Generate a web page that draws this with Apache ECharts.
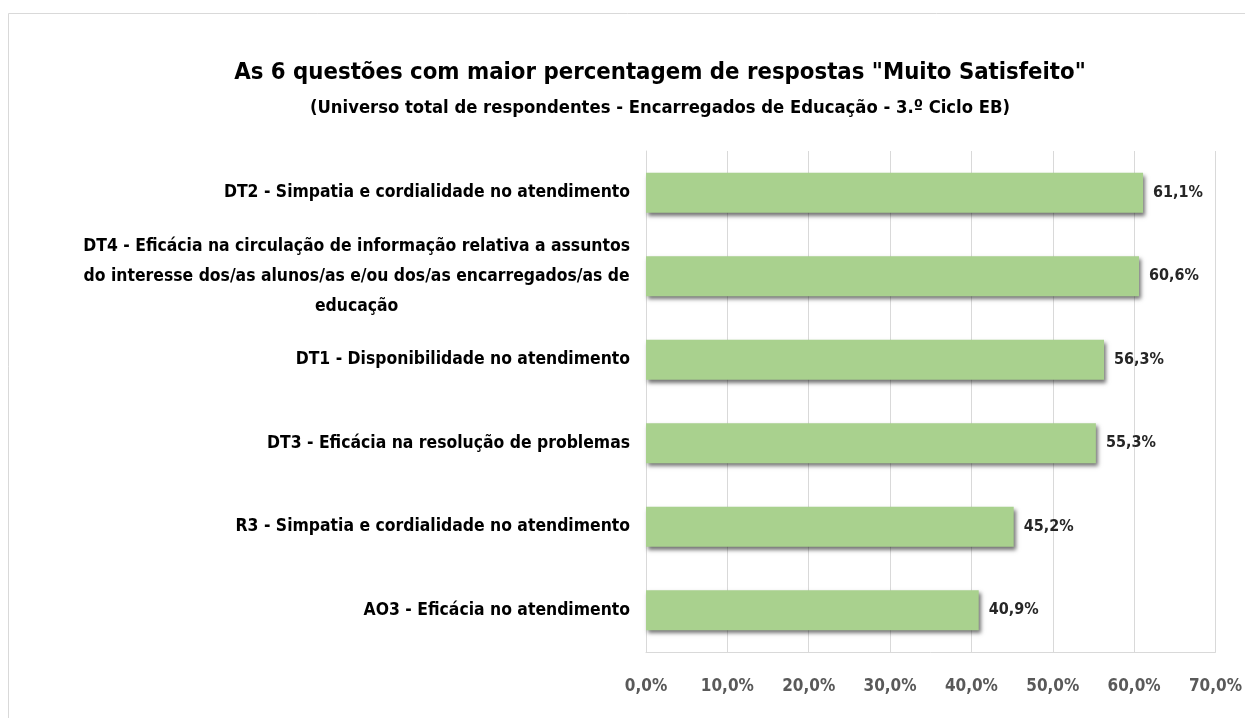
<!DOCTYPE html>
<html>
<head>
<meta charset="utf-8">
<script src="https://cdn.jsdelivr.net/npm/echarts@6/dist/echarts.min.js"></script>
<style>
  html, body { margin: 0; padding: 0; background: #ffffff; }
  #chart { width: 1245px; height: 718px; }
</style>
</head>
<body>
<div id="chart"></div>
<script>
const titleText = 'As 6 questões com maior percentagem de respostas "Muito Satisfeito"';
const subtitleText = '(Universo total de respondentes - Encarregados de Educação - 3.º Ciclo EB)';
const categories = [
  'DT2 - Simpatia e cordialidade no atendimento',
  'DT4 - Eficácia na circulação de informação relativa a assuntos\ndo interesse dos/as alunos/as e/ou dos/as encarregados/as de\neducação',
  'DT1 - Disponibilidade no atendimento',
  'DT3 - Eficácia na resolução de problemas',
  'R3 - Simpatia e cordialidade no atendimento',
  'AO3 - Eficácia no atendimento'
];
const values = [61.1, 60.6, 56.3, 55.3, 45.2, 40.9];
const axisMin = 0, axisMax = 70, axisStep = 10;

const FONT = '"DejaVu Sans Condensed", "Liberation Sans Narrow", sans-serif';
const fmt = v => v.toFixed(1).replace('.', ',') + '%';

const chart = echarts.init(document.getElementById('chart'), null, { renderer: 'canvas' });
chart.setOption({
  backgroundColor: '#ffffff',
  animation: false,
  graphic: [{
    type: 'rect',
    shape: { x: 8.5, y: 13.5, width: 1300, height: 800 },
    style: { fill: 'none', stroke: '#d9d9d9', lineWidth: 1 },
    silent: true
  }],
  title: [{
    text: titleText,
    left: 655, top: 56, textAlign: 'center',
    textStyle: { fontFamily: FONT, fontSize: 23.7, fontWeight: 'bold', color: '#000000' }
  }, {
    text: subtitleText,
    left: 655, top: 94, textAlign: 'center',
    textStyle: { fontFamily: FONT, fontSize: 18.3, fontWeight: 'bold', color: '#000000' }
  }],
  grid: { left: 646, right: 27, top: 151, bottom: 66, containLabel: false },
  xAxis: {
    type: 'value', min: axisMin, max: axisMax, interval: axisStep,
    axisLine: { show: true, lineStyle: { color: '#d9d9d9', width: 1 } },
    axisTick: { show: false },
    splitLine: { show: true, lineStyle: { color: '#d9d9d9', width: 1 } },
    axisLabel: {
      margin: 26, color: '#595959', fontFamily: FONT, fontSize: 17, fontWeight: 'bold',
      formatter: v => fmt(v)
    }
  },
  yAxis: {
    type: 'category', data: categories, inverse: true,
    axisLine: { show: true, lineStyle: { color: '#d9d9d9', width: 1 } },
    axisTick: { show: false },
    axisLabel: {
      margin: 16, color: '#000000', fontFamily: FONT, fontSize: 17.4, fontWeight: 'bold',
      lineHeight: 30,
      formatter: v => v.split('\n').map(l => '{c|' + l + '}').join('\n'),
      rich: { c: { align: 'center', fontFamily: FONT, fontSize: 17.4, fontWeight: 'bold', color: '#000000', lineHeight: 30 } }
    }
  },
  series: [{
    type: 'bar',
    data: values,
    barWidth: '48%',
    itemStyle: {
      color: '#a9d18e',
      shadowColor: 'rgba(0,0,0,0.55)', shadowBlur: 4, shadowOffsetX: 2, shadowOffsetY: 3
    },
    label: {
      show: true, position: 'right', distance: 10,
      color: '#262626', fontFamily: FONT, fontSize: 16, fontWeight: 'bold',
      formatter: p => fmt(p.value)
    }
  }]
});
</script>
</body>
</html>
